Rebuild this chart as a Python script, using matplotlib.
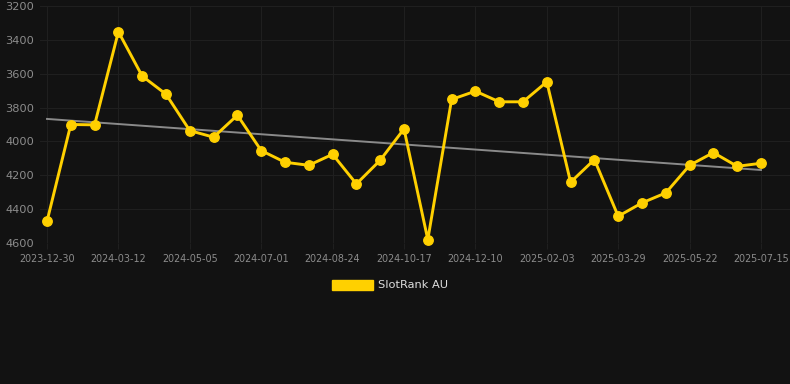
import matplotlib
matplotlib.use("Agg")
import matplotlib.pyplot as plt
import matplotlib.patches as mpatches
import numpy as np

# rank values, one per sample (points are evenly spaced on the x axis)
ranks = [4472, 3900, 3902, 3352, 3614, 3721, 3936, 3975, 3845, 4054,
         4123, 4141, 4076, 4251, 4111, 3926, 4580, 3752, 3703, 3766,
         3766, 3648, 4241, 4107, 4442, 4363, 4304, 4141, 4066, 4147,
         4129]

# dates shown under every third point
tick_labels = ["2023-12-30", "2024-03-12", "2024-05-05", "2024-07-01",
               "2024-08-24", "2024-10-17", "2024-12-10", "2025-02-03",
               "2025-03-29", "2025-05-22", "2025-07-15"]

y_ticks = [3200, 3400, 3600, 3800, 4000, 4200, 4400, 4600]

series_name = "SlotRank AU"

BG = "#121212"
GOLD = "#FFD000"

x = np.arange(len(ranks))
slope, intercept = np.polyfit(x, ranks, 1)
trend = slope * x + intercept

fig = plt.figure(figsize=(7.9, 3.84), dpi=100, facecolor=BG)
ax = fig.add_axes([40 / 790, 1 - 243 / 384, 750 / 790, 237 / 384])
ax.set_facecolor(BG)

ax.plot(x, trend, color="#8a8a8a", linewidth=1.4, zorder=2)
ax.plot(x, ranks, color=GOLD, linewidth=2.1, marker="o", markersize=6.8,
        zorder=3, clip_on=False)

ax.set_xlim(-7 / 23.8, 30 + 29 / 23.8)
ax.set_ylim(4600, 3200)
ax.set_yticks(y_ticks)
ax.set_xticks(x[::3])
ax.set_xticklabels(tick_labels)

ax.grid(True, color="#1f1f1f", linewidth=0.8)
ax.set_axisbelow(True)
for s in ax.spines.values():
    s.set_visible(False)
ax.tick_params(axis="y", length=0, pad=4, labelsize=8.2, labelcolor="#8c8c8c")
ax.tick_params(axis="x", length=4, color="#1f1f1f", pad=4, labelsize=6.9,
               labelcolor="#8c8c8c")

handle = mpatches.Patch(facecolor=GOLD, edgecolor=GOLD)
leg = fig.legend([handle], [series_name], loc="center",
                 bbox_to_anchor=(390 / 790, 1 - 285 / 384), frameon=False,
                 fontsize=8.2, handlelength=3.6, handleheight=1.0,
                 handletextpad=0.5)
for t in leg.get_texts():
    t.set_color("#dddddd")

fig.savefig("out.png", dpi=100, facecolor=BG)
